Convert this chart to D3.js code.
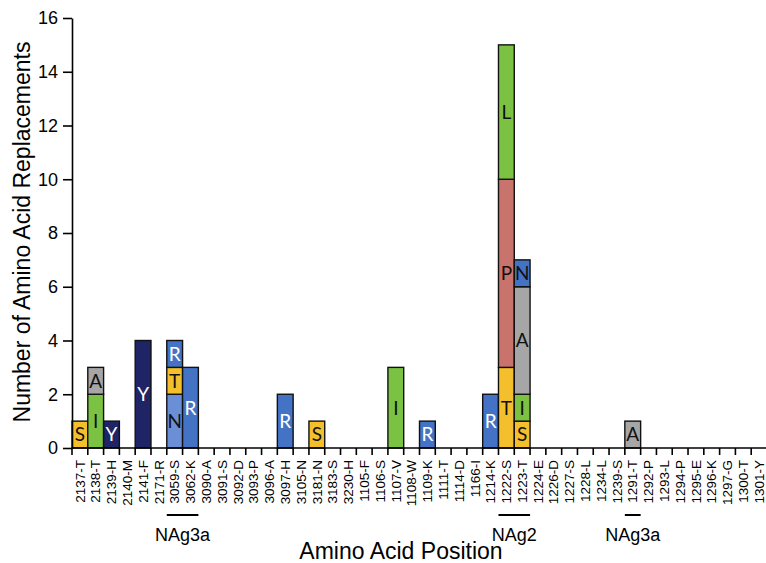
<!DOCTYPE html>
<html>
<head>
<meta charset="utf-8">
<script src="https://cdn.jsdelivr.net/npm/d3@7"></script>
<style>
  html, body { margin: 0; padding: 0; background: #fff; overflow: hidden; }
  svg { display: block; }
</style>
</head>
<body>
<svg id="chart" width="766" height="563"></svg>
<script>
// Amino acid positions along the x axis
const positions = [
  "2137-T", "2138-T", "2139-H", "2140-M", "2141-F", "2171-R", "3059-S", "3062-K",
  "3090-A", "3091-S", "3092-D", "3093-P", "3096-A", "3097-H", "3105-N", "3181-N",
  "3183-S", "3230-H", "1105-F", "1106-S", "1107-V", "1108-W", "1109-K", "1111-T",
  "1114-D", "1166-I", "1214-K", "1222-S", "1223-T", "1224-E", "1226-D", "1227-S",
  "1228-L", "1234-L", "1239-S", "1291-T", "1292-P", "1293-L", "1294-P", "1295-E",
  "1296-K", "1297-G", "1300-T", "1301-Y"
];

// Replacement segments, listed bottom-to-top within each position
const segPosition = [
  "2137-T",
  "2138-T", "2138-T",
  "2139-H",
  "2141-F",
  "3059-S", "3059-S", "3059-S",
  "3062-K",
  "3097-H",
  "3181-N",
  "1107-V",
  "1109-K",
  "1214-K",
  "1222-S", "1222-S", "1222-S",
  "1223-T", "1223-T", "1223-T", "1223-T",
  "1291-T"
];
const segResidue = [
  "S",
  "I", "A",
  "Y",
  "Y",
  "N", "T", "R",
  "R",
  "R",
  "S",
  "I",
  "R",
  "R",
  "T", "P", "L",
  "S", "I", "A", "N",
  "A"
];
const segCount = [
  1,
  2, 1,
  1,
  4,
  2, 1, 1,
  3,
  2,
  1,
  3,
  1,
  2,
  3, 7, 5,
  1, 1, 4, 1,
  1
];

// Y axis ticks
const yTicks = [0, 2, 4, 6, 8, 10, 12, 14, 16];

// Epitope regions marked below the axis
const regionLabel = ["NAg3a", "NAg2", "NAg3a"];
const regionStart = ["3059-S", "1222-S", "1291-T"];
const regionEnd = ["3062-K", "1223-T", "1291-T"];

// ---- styling ----
const residueFill = {
  S: "#F3BF2C", T: "#F3BF2C",
  I: "#7CC242", L: "#7CC242",
  A: "#A6A6A6",
  Y: "#1E2466",
  R: "#4472C4", N: "#4472C4",
  P: "#C8736C"
};
const residueText = { Y: "#fff", R: "#fff" };
const lightBlue = "#6A8FD6";

const svg = d3.select("#chart");
const fontUI = "Arial, 'Liberation Sans', Helvetica, sans-serif";
const fontBar = "Lato, 'Open Sans', sans-serif";

const x = d3.scaleBand().domain(positions).range([72, 767]).padding(0);
const y = d3.scaleLinear().domain([0, 16]).range([448, 18]);

// build stacked segments
const offsets = {};
const segments = segPosition.map((p, i) => {
  const y0 = offsets[p] || 0;
  const y1 = y0 + segCount[i];
  offsets[p] = y1;
  return { pos: p, res: segResidue[i], y0, y1 };
});

const bars = svg.append("g");
bars.selectAll("rect")
  .data(segments)
  .join("rect")
  .attr("x", d => x(d.pos))
  .attr("width", x.bandwidth())
  .attr("y", d => y(d.y1))
  .attr("height", d => y(d.y0) - y(d.y1))
  .attr("fill", d => (d.pos === "3059-S" && d.res === "N") ? lightBlue : residueFill[d.res])
  .attr("stroke", "#111")
  .attr("stroke-width", 1.4);

bars.selectAll("text")
  .data(segments)
  .join("text")
  .attr("x", d => x(d.pos) + x.bandwidth() / 2)
  .attr("y", d => y((d.y0 + d.y1) / 2))
  .attr("dy", "0.36em")
  .attr("text-anchor", "middle")
  .attr("font-family", fontBar)
  .attr("font-size", 19)
  .attr("fill", d => residueText[d.res] || "#111")
  .text(d => d.res);

// y axis
const yAxis = svg.append("g")
  .attr("transform", "translate(72,0)")
  .call(d3.axisLeft(y).tickValues(yTicks).tickSize(9).tickSizeOuter(0).tickPadding(5));
yAxis.select(".domain").attr("stroke", "#000").attr("stroke-width", 1.6);
yAxis.selectAll(".tick line").attr("stroke", "#000").attr("stroke-width", 1.6);
yAxis.selectAll(".tick text")
  .attr("font-family", fontUI).attr("font-size", 18).attr("fill", "#000");

// x axis: ticks sit on category boundaries
const xAxisG = svg.append("g").attr("transform", "translate(0,448)");
xAxisG.append("line")
  .attr("x1", 72).attr("x2", 767)
  .attr("stroke", "#000").attr("stroke-width", 1.6);
const boundaries = positions.map(p => x(p)).concat([x(positions[positions.length - 1]) + x.bandwidth()]);
xAxisG.selectAll("line.tk")
  .data(boundaries)
  .join("line")
  .attr("class", "tk")
  .attr("x1", d => d).attr("x2", d => d)
  .attr("y1", 0).attr("y2", 7)
  .attr("stroke", "#000").attr("stroke-width", 1.6);
xAxisG.selectAll("text")
  .data(positions)
  .join("text")
  .attr("transform", p => `translate(${x(p) + x.bandwidth() / 2},12) rotate(-90)`)
  .attr("dy", "0.35em")
  .attr("text-anchor", "end")
  .attr("font-family", fontUI)
  .attr("font-size", 13.5)
  .attr("fill", "#000")
  .text(p => p);

// region markers
const regions = svg.append("g");
regionLabel.forEach((lab, i) => {
  const x0 = x(regionStart[i]);
  const x1 = x(regionEnd[i]) + x.bandwidth();
  regions.append("line")
    .attr("x1", x0).attr("x2", x1)
    .attr("y1", 515).attr("y2", 515)
    .attr("stroke", "#000").attr("stroke-width", 2);
  regions.append("text")
    .attr("x", (x0 + x1) / 2).attr("y", 541)
    .attr("text-anchor", "middle")
    .attr("font-family", fontUI).attr("font-size", 18)
    .attr("fill", "#000")
    .text(lab);
});

// axis titles
svg.append("text")
  .attr("x", 401).attr("y", 559)
  .attr("text-anchor", "middle")
  .attr("font-family", fontUI).attr("font-size", 23)
  .text("Amino Acid Position");
svg.append("text")
  .attr("transform", "translate(30,232) rotate(-90)")
  .attr("text-anchor", "middle")
  .attr("font-family", fontUI).attr("font-size", 23)
  .text("Number of Amino Acid Replacements");
</script>
</body>
</html>
